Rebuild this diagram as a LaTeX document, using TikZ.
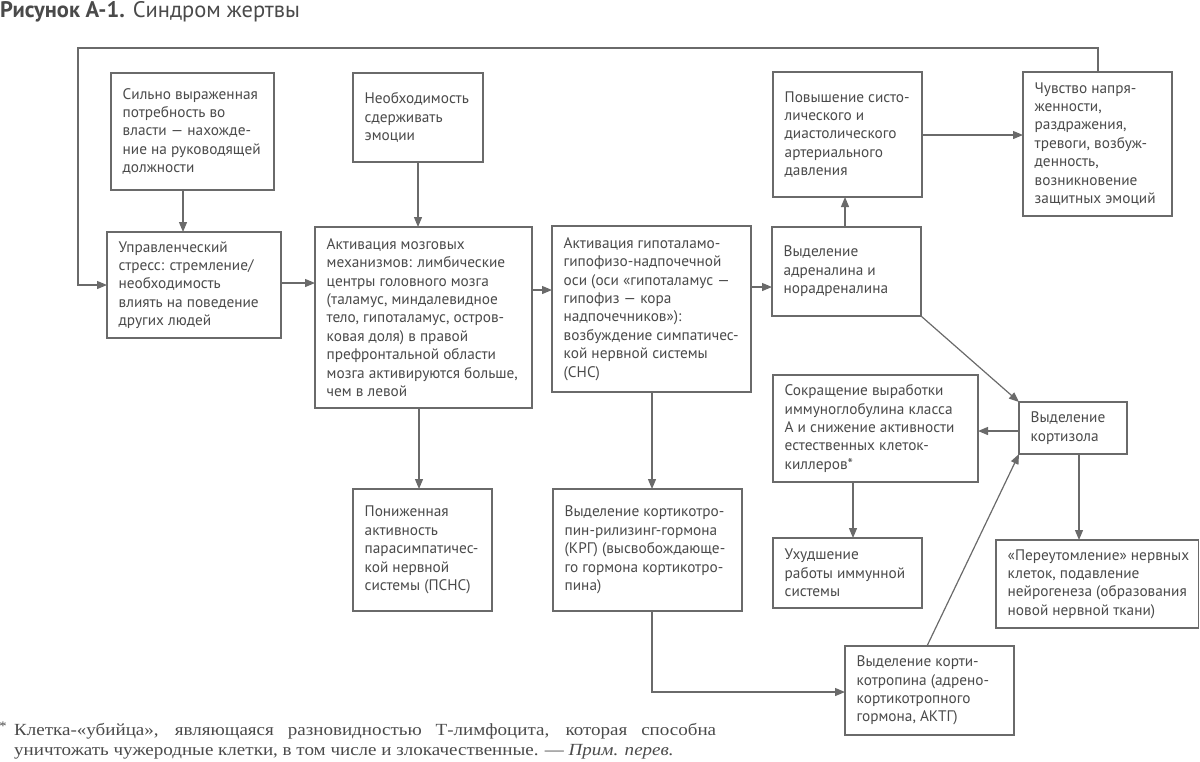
\documentclass[tikz,border=0pt]{standalone}
\usepackage{fontspec}
\setmainfont{PT Sans}
\newfontfamily\fnfont[FakeStretch=1.12]{Liberation Serif}
\usetikzlibrary{arrows.meta}
\definecolor{lncol}{HTML}{6A6A6A}
\definecolor{txcol}{HTML}{4A4A4A}
\tikzset{
  box/.style={draw=lncol, line width=1.2pt, inner sep=0pt, outer sep=0pt},
  txt/.style={text=txcol, align=left, inner sep=0pt, font=\fontsize{15.3}{18.4}\selectfont},
  arr/.style={draw=lncol, line width=1.2pt, -{Triangle[length=10pt,width=8pt]}},
}
\newcommand\bx[6]{%
  \node[box, minimum width={#4-#2}, minimum height={#5-#3}] (#1) at ({(#2+#4)/2},{(#3+#5)/2}) {};
  \node[txt, anchor=west] (#1t) at ([xshift=11.5pt]#1.west) {#6};
}
\begin{document}
\begin{tikzpicture}[x=1pt,y=-1pt]
\useasboundingbox (0,0) rectangle (1200,761);
\node[anchor=north west, inner sep=0pt, text=txcol, font=\fontsize{22.5}{24}\selectfont] (title) at (0,1) {\textbf{Рисунок А-1.} Синдром жертвы};

\bx{b1}{111}{73}{274}{190}{Сильно выраженная\\потребность во\\власти — нахожде-\\ние на руководящей\\должности}
\bx{b2}{353}{73}{483}{162}{Необходимость\\сдерживать\\эмоции}
\bx{b3}{107}{232}{281}{338}{Управленческий\\стресс: стремление/\\необходимость\\влиять на поведение\\других людей}
\bx{b4}{315}{227}{532}{408}{Активация мозговых\\механизмов: лимбические\\центры головного мозга\\(таламус, миндалевидное\\тело, гипоталамус, остров-\\ковая доля) в правой\\префронтальной области\\мозга активируются больше,\\чем в левой}
\bx{b5}{552}{226}{751}{392}{Активация гипоталамо-\\гипофизо-надпочечной\\оси (оси «гипоталамус —\\гипофиз — кора\\надпочечников»):\\возбуждение симпатичес-\\кой нервной системы\\(СНС)}
\bx{b6}{772}{227}{921}{316}{Выделение\\адреналина и\\норадреналина}
\bx{b7}{773}{72}{922}{197}{Повышение систо-\\лического и\\диастолического\\артериального\\давления}
\bx{b8}{1023}{72}{1172}{216}{Чувство напря-\\женности,\\раздражения,\\тревоги, возбуж-\\денность,\\возникновение\\защитных эмоций}
\bx{b9}{773}{375}{978}{482}{Сокращение выработки\\иммуноглобулина класса\\А и снижение активности\\естественных клеток-\\киллеров*}
\bx{b10}{1019}{402}{1127}{454}{Выделение\\кортизола}
\bx{b11}{353}{489}{492}{611}{Пониженная\\активность\\парасимпатичес-\\кой нервной\\системы (ПСНС)}
\bx{b12}{553}{489}{742}{611}{Выделение кортикотро-\\пин-рилизинг-гормона\\(КРГ) (высвобождающе-\\го гормона кортикотро-\\пина)}
\bx{b13}{773}{538}{922}{608}{Ухудшение\\работы иммунной\\системы}
\bx{b14}{996}{540}{1198.5}{628}{«Переутомление» нервных\\клеток, подавление\\нейрогенеза (образования\\новой нервной ткани)}
\bx{b15}{845}{646}{1014}{735}{Выделение корти-\\котропина (адрено-\\кортикотропного\\гормона, АКТГ)}

\draw[arr] (b1.south -| 183,0) -- (b3.north -| 183,0);
\draw[arr] (b2.south -| 418,0) -- (b4.north -| 418,0);
\draw[arr] (b3.east |- 0,283) -- (b4.west |- 0,283);
\draw[arr] (b4.east |- 0,290) -- (b5.west |- 0,290);
\draw[arr] (b5.east |- 0,287) -- (b6.west |- 0,287);
\draw[arr] (b4.south -| 419,0) -- (b11.north -| 419,0);
\draw[arr] (b5.south -| 652,0) -- (b12.north -| 652,0);
\draw[arr] (b6.north -| 845,0) -- (b7.south -| 845,0);
\draw[arr] (b7.east |- 0,135) -- (b8.west |- 0,135);
\draw[arr] (b6.south east) -- (b10.north west);
\draw[arr] (b10.west |- 0,431) -- (b9.east |- 0,431);
\draw[arr] (b10.south -| 1079,0) -- (b14.north -| 1079,0);
\draw[arr] (b9.south -| 853,0) -- (b13.north -| 853,0);
\draw[arr] (b12.south -| 652,0) |- (b15.west |- 0,692);
\draw[arr] (b15.north -| 927,0) -- (b10.south west);
\coordinate (loopTR) at (1098,48);
\coordinate (loopL) at (78,285);
\draw[arr] (b8.north -| 1098,0) -- (loopTR) -| (loopL) -- (b3.west |- 0,285);

\node[inner sep=0pt, text=txcol, font=\fnfont\fontsize{13}{13}\selectfont] (star) at (3,726) {*};
\node[anchor=base west, inner sep=0pt, text=txcol, font=\fnfont\fontsize{17}{20}\selectfont] (fn1) at (14,735) {\makebox[702pt][s]{Клетка-«убийца», являющаяся разновидностью Т-лимфоцита, которая способна}};
\node[anchor=base west, inner sep=0pt, text=txcol, font=\fnfont\fontsize{17}{20}\selectfont] (fn2) at (14,755) {уничтожать чужеродные клетки, в том числе и злокачественные. — \textit{Прим. перев.}};
\end{tikzpicture}
\end{document}
